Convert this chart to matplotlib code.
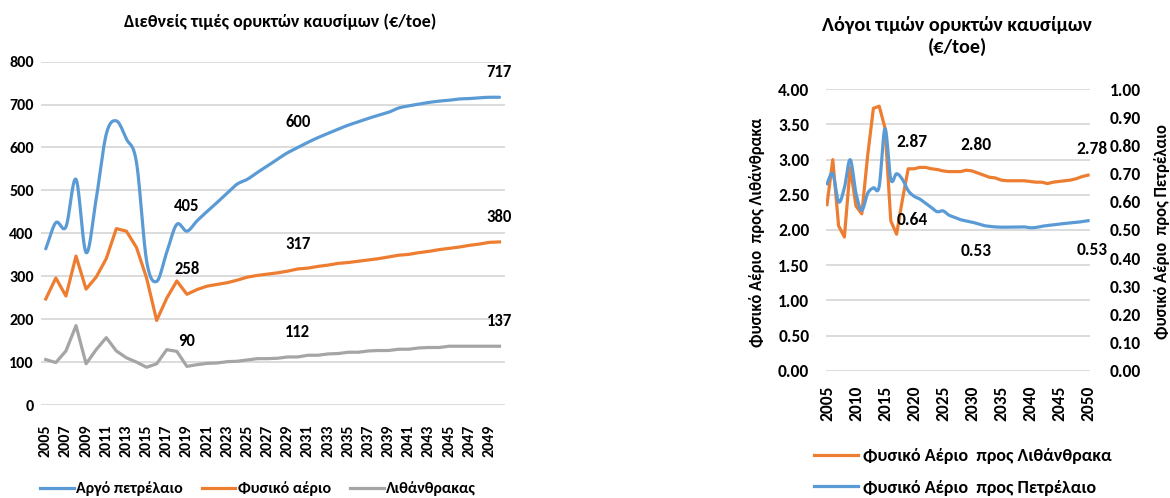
import matplotlib
matplotlib.use('Agg')
import matplotlib.pyplot as plt
from matplotlib.lines import Line2D
import numpy as np

FAM = ['Carlito', 'DejaVu Sans']
plt.rcParams.update({
    'font.family': FAM,
    'font.weight': 'bold',
    'axes.unicode_minus': False,
})

C_OIL = '#5B9BD5'
C_GAS = '#ED7D31'
C_COAL = '#A5A5A5'
C_GRID = '#D9D9D9'

years = np.arange(2005, 2051)

oil = [364, 425, 415, 526, 355, 480, 631, 662, 620, 565, 336, 288, 356, 421, 405,
       429, 451, 472, 494, 515, 526, 542, 557, 573, 588, 600, 612, 623, 633, 643,
       652, 660, 668, 675, 682, 692, 697, 701, 705, 708, 710, 713, 714, 716, 717, 717]
gas = [247, 296, 254, 347, 270, 298, 341, 411, 405, 367, 296, 197, 249, 289, 258,
       269, 277, 281, 285, 291, 298, 302, 305, 308, 312, 317, 319, 323, 326, 330,
       332, 335, 338, 341, 345, 349, 351, 355, 358, 362, 365, 368, 372, 375, 379, 380]
coal = [106, 99, 126, 185, 96, 129, 157, 126, 110, 100, 88, 96, 129, 125, 90,
        94, 97, 98, 101, 102, 105, 108, 108, 109, 112, 112, 116, 116, 119, 120,
        123, 123, 126, 127, 127, 130, 130, 133, 134, 134, 137, 137, 137, 137, 137, 137]

gas_coal = [2.36, 3.00, 2.06, 1.90, 2.89, 2.34, 2.23, 3.05, 3.73, 3.76, 3.45, 2.13,
            1.94, 2.43, 2.87, 2.87, 2.89, 2.89, 2.87, 2.86, 2.84, 2.83, 2.83, 2.83,
            2.85, 2.84, 2.81, 2.78, 2.75, 2.74, 2.71, 2.70, 2.70, 2.70, 2.70, 2.69,
            2.68, 2.68, 2.66, 2.68, 2.69, 2.70, 2.71, 2.73, 2.76, 2.78]
gas_oil = [0.665, 0.70, 0.60, 0.65, 0.75, 0.63, 0.57, 0.63, 0.65, 0.655, 0.86, 0.68,
           0.70, 0.68, 0.64, 0.62, 0.61, 0.595, 0.58, 0.565, 0.568, 0.553, 0.545,
           0.537, 0.532, 0.528, 0.522, 0.516, 0.513, 0.511, 0.51, 0.51, 0.51, 0.51,
           0.511, 0.508, 0.509, 0.513, 0.516, 0.518, 0.521, 0.523, 0.525, 0.527,
           0.530, 0.533]

# label text and the years they sit on
left_labels = {'oil': [(2019, '405'), (2030, '600'), (2050, '717')],
               'gas': [(2019, '258'), (2030, '317'), (2050, '380')],
               'coal': [(2019, '90'), (2030, '112'), (2050, '137')]}
right_labels_gc = [(2019, '2.87'), (2030, '2.80'), (2050, '2.78')]
right_labels_go = [(2019, '0.64'), (2030, '0.53'), (2050, '0.53')]


def smooth(x, y, n=12):
    # catmull-rom, close to excel's "smoothed line"
    x = np.asarray(x, float)
    y = np.asarray(y, float)
    px = np.concatenate([[2 * x[0] - x[1]], x, [2 * x[-1] - x[-2]]])
    py = np.concatenate([[2 * y[0] - y[1]], y, [2 * y[-1] - y[-2]]])
    xs, ys = [], []
    t = np.linspace(0, 1, n, endpoint=False)
    for i in range(1, len(px) - 2):
        for arr, out in ((px, xs), (py, ys)):
            p0, p1, p2, p3 = arr[i - 1], arr[i], arr[i + 1], arr[i + 2]
            out.extend(0.5 * (2 * p1 + (-p0 + p2) * t
                              + (2 * p0 - 5 * p1 + 4 * p2 - p3) * t ** 2
                              + (-p0 + 3 * p1 - 3 * p2 + p3) * t ** 3))
    xs.append(x[-1])
    ys.append(y[-1])
    return np.array(xs), np.array(ys)


fig = plt.figure(figsize=(11.7, 4.98), dpi=100)

# === left chart ===
ax = fig.add_axes([0.0348, 0.1867, 0.3964, 0.6895])
sx, sy = smooth(years, oil)
ax.plot(sx, sy, color=C_OIL, lw=2.3, solid_capstyle='round')
ax.plot(years, gas, color=C_GAS, lw=2.3, solid_joinstyle='round')
ax.plot(years, coal, color=C_COAL, lw=2.3, solid_joinstyle='round')

for key, series in (('oil', oil), ('gas', gas), ('coal', coal)):
    for yr, txt in left_labels[key]:
        ax.annotate(txt, xy=(yr, series[yr - 2005]), xytext=(0, 18),
                    textcoords='offset points', ha='center', va='center',
                    fontsize=12, fontweight='bold', family=FAM)

ax.set_xlim(2004.5, 2050.5)
ax.set_ylim(0, 800)
ax.set_yticks(np.arange(0, 801, 100))
ax.set_xticks(years[::2])
ax.set_xticklabels([str(y) for y in years[::2]], rotation=90)
ax.tick_params(axis='x', length=0, pad=14, labelsize=11.5)
ax.tick_params(axis='y', length=0, pad=5, labelsize=11.5)
ax.grid(True, axis='y', color=C_GRID, lw=1.3)
ax.set_axisbelow(True)
for s in ax.spines.values():
    s.set_visible(False)

fig.text(280 / 1170, 1 - 22 / 498, 'Διεθνείς τιμές ορυκτών καυσίμων (€/toe)',
         ha='center', va='center', fontsize=13, fontweight='bold', family=FAM)

handles = [Line2D([], [], color=C_OIL, lw=2.3),
           Line2D([], [], color=C_GAS, lw=2.3),
           Line2D([], [], color=C_COAL, lw=2.3)]
fig.legend(handles, ['Αργό πετρέλαιο', 'Φυσικό αέριο', 'Λιθάνθρακας'],
           loc='center', bbox_to_anchor=(258 / 1170, 1 - 489 / 498), ncol=3,
           frameon=False, handlelength=2.1, handletextpad=0.15,
           columnspacing=1.2, prop={'family': FAM, 'weight': 'bold', 'size': 11.5})

# === right chart ===
RS = 12.5
ax2 = fig.add_axes([826 / 1170, 1 - 370.7 / 498, 264 / 1170, 281.4 / 498])
ax3 = ax2.twinx()
ax2.plot(years, gas_coal, color=C_GAS, lw=2.3, solid_joinstyle='round', zorder=3)
bx, by = smooth(years, gas_oil)
ax3.plot(bx, by, color=C_OIL, lw=2.3, zorder=3)

for yr, txt in right_labels_gc:
    ax2.annotate(txt, xy=(yr, gas_coal[yr - 2005]), xytext=(3, 19),
                 textcoords='offset points', ha='center', va='center',
                 fontsize=RS, fontweight='bold', family=FAM)
for yr, txt in right_labels_go:
    ax3.annotate(txt, xy=(yr, gas_oil[yr - 2005]), xytext=(3, -21),
                 textcoords='offset points', ha='center', va='center',
                 fontsize=RS, fontweight='bold', family=FAM)

ax2.set_xlim(2004.83, 2050.34)
ax2.set_ylim(0, 4)
ax3.set_ylim(0, 1)
ax2.set_yticks(np.arange(0, 4.01, 0.5))
ax2.set_yticklabels([f'{v:.2f}' for v in np.arange(0, 4.01, 0.5)])
ax3.set_yticks(np.arange(0, 1.01, 0.1))
ax3.set_yticklabels([f'{v:.2f}' for v in np.arange(0, 1.01, 0.1)])
ax2.set_xticks(years[::5])
ax2.set_xticklabels([str(y) for y in years[::5]], rotation=90)
ax2.tick_params(axis='x', length=0, pad=11, labelsize=RS)
ax2.tick_params(axis='y', length=0, pad=12, labelsize=RS)
ax3.tick_params(axis='y', length=0, pad=14, labelsize=RS)
ax2.grid(True, axis='y', color=C_GRID, lw=1.3)
ax2.set_axisbelow(True)
for a in (ax2, ax3):
    for s in a.spines.values():
        s.set_visible(False)

fig.text(757 / 1170, 1 - 232 / 498, 'Φυσικό Αέριο  προς Λιθάνθρακα', rotation=90,
         ha='center', va='center', fontsize=12, fontweight='bold', family=FAM)
fig.text(1162 / 1170, 1 - 232 / 498, 'Φυσικό Αέριο  προς Πετρέλαιο', rotation=90,
         ha='center', va='center', fontsize=12, fontweight='bold', family=FAM)

fig.text(957 / 1170, 1 - 36 / 498, 'Λόγοι τιμών ορυκτών καυσίμων\n(€/toe)',
         ha='center', va='center', fontsize=14.5, fontweight='bold', family=FAM,
         linespacing=1.25)

h2 = [Line2D([], [], color=C_GAS, lw=2.3), Line2D([], [], color=C_OIL, lw=2.3)]
fig.legend(h2, ['Φυσικό Αέριο  προς Λιθάνθρακα', 'Φυσικό Αέριο  προς Πετρέλαιο'],
           loc='upper left', bbox_to_anchor=(798 / 1170, 1 - 432 / 498), ncol=1,
           frameon=False, handlelength=2.4, handletextpad=0.3,
           labelspacing=0.85, prop={'family': FAM, 'weight': 'bold', 'size': 13})

fig.savefig('out.png', dpi=100)
